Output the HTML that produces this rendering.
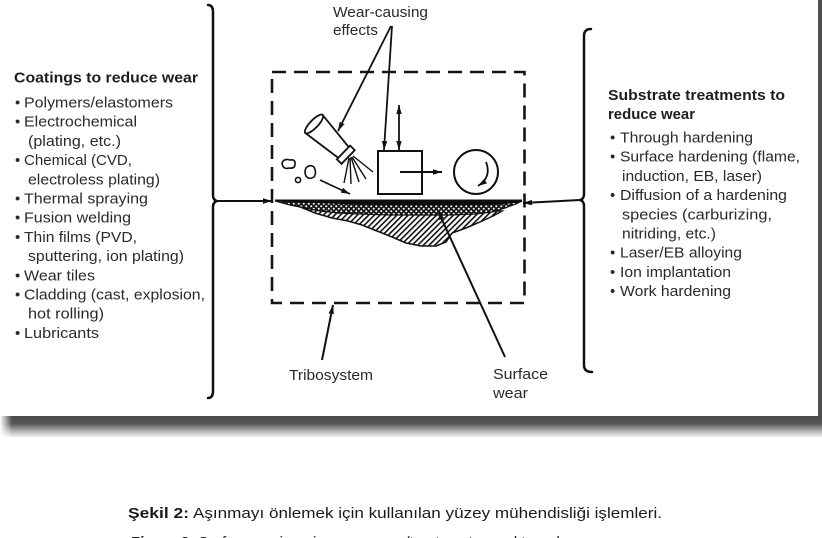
<!DOCTYPE html>
<html>
<head>
<meta charset="utf-8">
<style>
  html,body{margin:0;padding:0;background:#fff;}
  svg{display:block;}
  .t{font-family:"Liberation Sans",Arial,sans-serif;font-size:15px;fill:#2a2a2a;}
  .b{font-weight:bold;fill:#1e1e1e;}
  .cap{font-family:"Liberation Sans",Arial,sans-serif;font-size:15px;fill:#1a1a1a;}
</style>
</head>
<body>
<svg width="822" height="538" viewBox="0 0 822 538" xmlns="http://www.w3.org/2000/svg">
  <defs>
    <marker id="ah" viewBox="0 0 10 6" refX="10" refY="3" markerWidth="9" markerHeight="6" markerUnits="userSpaceOnUse" orient="auto-start-reverse">
      <path d="M0,0 L10,3 L0,6 z" fill="#111"/>
    </marker>
    <pattern id="hatch" width="4" height="4" patternUnits="userSpaceOnUse" patternTransform="rotate(45)">
      <rect width="4" height="4" fill="#fff"/>
      <rect x="0" y="0" width="1.6" height="4" fill="#111"/>
    </pattern>
    <pattern id="check" width="5" height="5" patternUnits="userSpaceOnUse">
      <rect width="5" height="5" fill="#151515"/>
      <circle cx="1.25" cy="1.25" r="1.05" fill="#fff"/>
      <circle cx="3.75" cy="3.75" r="1.05" fill="#fff"/>
    </pattern>
    <linearGradient id="shadow" x1="0" y1="0" x2="0" y2="1">
      <stop offset="0" stop-color="#4a4a4a"/>
      <stop offset="0.35" stop-color="#575757"/>
      <stop offset="0.65" stop-color="#a8a8a8"/>
      <stop offset="1" stop-color="#ffffff"/>
    </linearGradient>
    <linearGradient id="fadeL" x1="0" y1="0" x2="1" y2="0">
      <stop offset="0" stop-color="#fff" stop-opacity="1"/>
      <stop offset="1" stop-color="#fff" stop-opacity="0"/>
    </linearGradient>
  </defs>

  <rect width="822" height="538" fill="#fff"/>

  <!-- frame -->
  <rect x="818" y="0" width="4" height="426" fill="#4f4f4f"/>
  <rect x="0" y="416" width="822" height="22" fill="url(#shadow)"/>
  <rect x="0" y="414" width="12" height="26" fill="url(#fadeL)"/>

  <!-- left column text -->
  <text class="t b" x="14" y="82.5" textLength="184" lengthAdjust="spacingAndGlyphs">Coatings to reduce wear</text>
  <g class="t">
    <text x="15" y="107.5">•</text><text x="24" y="107.5" textLength="149" lengthAdjust="spacingAndGlyphs">Polymers/elastomers</text>
    <text x="15" y="126.7">•</text><text x="24" y="126.7" textLength="113" lengthAdjust="spacingAndGlyphs">Electrochemical</text>
    <text x="28" y="145.9" textLength="93" lengthAdjust="spacingAndGlyphs">(plating, etc.)</text>
    <text x="15" y="165.1">•</text><text x="24" y="165.1" textLength="108" lengthAdjust="spacingAndGlyphs">Chemical (CVD,</text>
    <text x="28" y="184.3" textLength="132" lengthAdjust="spacingAndGlyphs">electroless plating)</text>
    <text x="15" y="203.5">•</text><text x="24" y="203.5" textLength="124" lengthAdjust="spacingAndGlyphs">Thermal spraying</text>
    <text x="15" y="222.7">•</text><text x="24" y="222.7" textLength="107" lengthAdjust="spacingAndGlyphs">Fusion welding</text>
    <text x="15" y="241.9">•</text><text x="24" y="241.9" textLength="113" lengthAdjust="spacingAndGlyphs">Thin films (PVD,</text>
    <text x="28" y="261.1" textLength="156" lengthAdjust="spacingAndGlyphs">sputtering, ion plating)</text>
    <text x="15" y="280.3">•</text><text x="24" y="280.3" textLength="71" lengthAdjust="spacingAndGlyphs">Wear tiles</text>
    <text x="15" y="299.5">•</text><text x="24" y="299.5" textLength="181" lengthAdjust="spacingAndGlyphs">Cladding (cast, explosion,</text>
    <text x="28" y="318.7" textLength="76" lengthAdjust="spacingAndGlyphs">hot rolling)</text>
    <text x="15" y="337.9">•</text><text x="24" y="337.9" textLength="75" lengthAdjust="spacingAndGlyphs">Lubricants</text>
  </g>

  <!-- right column text -->
  <text class="t b" x="608" y="100" textLength="177" lengthAdjust="spacingAndGlyphs">Substrate treatments to</text>
  <text class="t b" x="608" y="119" textLength="87" lengthAdjust="spacingAndGlyphs">reduce wear</text>
  <g class="t">
    <text x="610" y="142.5">•</text><text x="620" y="142.5" textLength="133" lengthAdjust="spacingAndGlyphs">Through hardening</text>
    <text x="610" y="161.7">•</text><text x="620" y="161.7" textLength="180" lengthAdjust="spacingAndGlyphs">Surface hardening (flame,</text>
    <text x="622" y="180.9" textLength="140" lengthAdjust="spacingAndGlyphs">induction, EB, laser)</text>
    <text x="610" y="200.1">•</text><text x="620" y="200.1" textLength="167" lengthAdjust="spacingAndGlyphs">Diffusion of a hardening</text>
    <text x="622" y="219.3" textLength="150" lengthAdjust="spacingAndGlyphs">species (carburizing,</text>
    <text x="622" y="238.5" textLength="94" lengthAdjust="spacingAndGlyphs">nitriding, etc.)</text>
    <text x="610" y="257.7">•</text><text x="620" y="257.7" textLength="122" lengthAdjust="spacingAndGlyphs">Laser/EB alloying</text>
    <text x="610" y="276.9">•</text><text x="620" y="276.9" textLength="111" lengthAdjust="spacingAndGlyphs">Ion implantation</text>
    <text x="610" y="296.1">•</text><text x="620" y="296.1" textLength="111" lengthAdjust="spacingAndGlyphs">Work hardening</text>
  </g>

  <!-- brackets -->
  <g fill="none" stroke="#111" stroke-width="2.5" stroke-linecap="round">
    <path d="M208,5 Q213,5 213,12 L213,195 Q213,200 217,201 Q213,202 213,207 L213,391 Q213,398 208,398"/>
    <path d="M591,29 Q584,29 584,36 L584,194 Q584,199 580,200 Q584,201 584,206 L584,365 Q584,372 592,372"/>
  </g>

  <!-- side arrows -->
  <g stroke="#111" stroke-width="2" fill="none">
    <line x1="217" y1="201" x2="272" y2="201" marker-end="url(#ah)"/>
    <line x1="580" y1="200" x2="523" y2="203" marker-end="url(#ah)"/>
  </g>

  <!-- dashed tribosystem box -->
  <rect x="272" y="72" width="252.5" height="231" fill="none" stroke="#151515" stroke-width="2.6" stroke-dasharray="14 8"/>

  <!-- wear region -->
  <path d="M298,206 L315,213 L332,218 L348,221 L362,225 L377,231 L392,237 L406,243 L421,246 L436,246 L446,242 L452,233 L466,228 L480,222 L493,216 L502,211 L300,206 Z" fill="url(#hatch)" stroke="#111" stroke-width="1.5"/>
  <path d="M275,201 L522,201 L516,204 L505,208 L492,212 L475,214 L450,215 L420,215 L390,215 L360,214 L338,213 L320,211 L305,208 L290,205 L279,202 Z" fill="url(#check)" stroke="#111" stroke-width="1.2"/>
  <path d="M275,199.5 L522,199.5 L522,202 L500,204.5 L460,205.5 L380,205.5 L330,203.5 L290,202 L275,201.5 Z" fill="#0d0d0d"/>

  <!-- block, arrow, circle -->
  <rect x="378" y="151" width="44" height="43" fill="#fff" stroke="#111" stroke-width="2"/>
  <line x1="400" y1="172" x2="442" y2="172" stroke="#111" stroke-width="2" marker-end="url(#ah)"/>
  <circle cx="476" cy="172" r="22" fill="none" stroke="#111" stroke-width="2"/>
  <path d="M486,162 Q492,177 478,186" fill="none" stroke="#111" stroke-width="1.8" marker-end="url(#ah)"/>

  <!-- nozzle -->
  <g transform="translate(314,124) rotate(44)" stroke="#111" stroke-width="1.8" fill="#fff">
    <path d="M0,-12.5 L41,-7.5 L41,7.5 L0,12.5 Z"/>
    <ellipse cx="0" cy="0" rx="4" ry="12.5"/>
    <rect x="41" y="-9.5" width="6.5" height="19"/>
  </g>
  <g stroke="#111" stroke-width="1.4">
    <line x1="349" y1="158" x2="344" y2="183"/>
    <line x1="350" y1="158" x2="351" y2="184"/>
    <line x1="351" y1="157" x2="359" y2="182"/>
    <line x1="352" y1="157" x2="366" y2="179"/>
    <line x1="353" y1="156" x2="373" y2="172"/>
  </g>

  <!-- particles -->
  <g fill="#fff" stroke="#111" stroke-width="1.6">
    <path d="M282,163 q2,-5 8,-3 q6,-1 5,5 q-1,4 -6,3 q-6,2 -7,-5z"/>
    <circle cx="298" cy="180" r="2.6"/>
    <path d="M306,168 q4,-4 8,-1 q3,6 0,10 q-5,3 -8,-1 q-2,-4 0,-8z"/>
  </g>
  <line x1="320" y1="180" x2="350" y2="194" stroke="#111" stroke-width="1.6" marker-end="url(#ah)"/>

  <!-- wear-causing effects -->
  <text class="t" x="333" y="17" textLength="95" lengthAdjust="spacingAndGlyphs">Wear-causing</text>
  <text class="t" x="333" y="35" textLength="45" lengthAdjust="spacingAndGlyphs">effects</text>
  <g stroke="#111" stroke-width="1.8" fill="none">
    <line x1="391" y1="26" x2="338" y2="131" marker-end="url(#ah)"/>
    <line x1="392" y1="26" x2="384" y2="150" marker-end="url(#ah)"/>
    <line x1="399" y1="105" x2="399" y2="150" marker-start="url(#ah)" marker-end="url(#ah)"/>
  </g>

  <!-- bottom labels -->
  <text class="t" x="289" y="380" textLength="84" lengthAdjust="spacingAndGlyphs">Tribosystem</text>
  <line x1="322" y1="360" x2="333" y2="305" stroke="#111" stroke-width="2" marker-end="url(#ah)"/>
  <text class="t" x="493" y="379" textLength="55" lengthAdjust="spacingAndGlyphs">Surface</text>
  <text class="t" x="493" y="398" textLength="35" lengthAdjust="spacingAndGlyphs">wear</text>
  <line x1="505" y1="357" x2="438" y2="211" stroke="#111" stroke-width="2" marker-end="url(#ah)"/>

  <!-- caption -->
  <text class="cap" x="128" y="518" font-weight="bold" textLength="61" lengthAdjust="spacingAndGlyphs">Şekil 2:</text>
  <text class="cap" x="193" y="518" textLength="469" lengthAdjust="spacingAndGlyphs">Aşınmayı önlemek için kullanılan yüzey mühendisliği işlemleri.</text>
  <text class="cap" x="130" y="547" font-style="italic"><tspan font-weight="bold">Figure 2:</tspan> Surface engineering processes/treatments used to reduce wear.</text>
</svg>
</body>
</html>
